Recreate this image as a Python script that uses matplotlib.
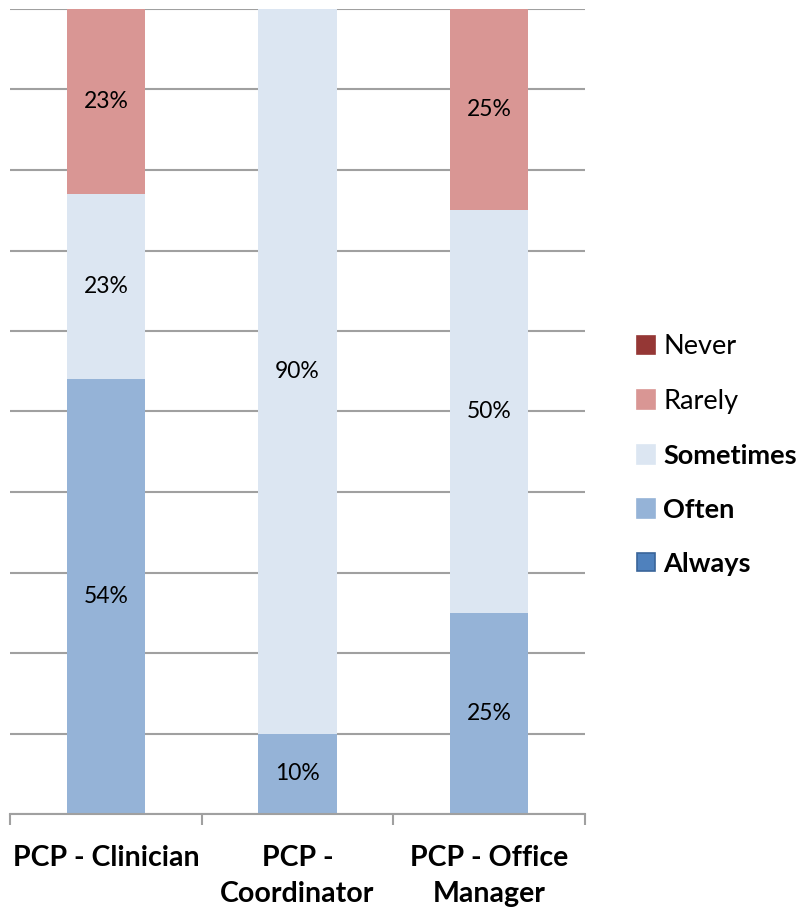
import matplotlib
matplotlib.use("Agg")
import matplotlib.pyplot as plt
from matplotlib.patches import Patch
import numpy as np

categories = ["PCP - Clinician", "PCP -\nCoordinator", "PCP - Office\nManager"]
series_names = ["Always", "Often", "Sometimes", "Rarely", "Never"]
always = [0, 0, 0]
often = [54, 10, 25]
sometimes = [23, 90, 50]
rarely = [23, 0, 25]
never = [0, 0, 0]
colors = {"Always": "#4F81BD", "Often": "#95B3D7", "Sometimes": "#DCE6F2",
          "Rarely": "#D99694", "Never": "#953735"}

plt.rcParams['font.family'] = ['Lato', 'DejaVu Sans']

W, H = 803, 911
fig = plt.figure(figsize=(W / 100, H / 100), dpi=100)
ax = fig.add_axes([10 / W, 1 - 814 / H, (585 - 10) / W, (814 - 9) / H])

x = np.arange(len(categories))
values = {"Always": always, "Often": often, "Sometimes": sometimes,
          "Rarely": rarely, "Never": never}
bottom = np.zeros(len(categories))
for name in series_names:
    v = np.array(values[name], dtype=float)
    bars = ax.bar(x, v, 0.41, bottom=bottom, color=colors[name], zorder=2)
    labels = [f"{int(round(val))}%" if val > 0 else "" for val in v]
    ax.bar_label(bars, labels=labels, label_type='center', fontsize=16.5, color='black')
    bottom += v

ax.set_xlim(-0.5, 2.5)
ax.set_ylim(0, 100)
ax.set_yticks(np.arange(0, 101, 10))
ax.yaxis.grid(True, color='#A0A0A0', linewidth=1.5, zorder=0)
ax.set_axisbelow(True)
ax.tick_params(axis='y', left=False, labelleft=False)
for s in ['left', 'right', 'top']:
    ax.spines[s].set_visible(False)
ax.spines['bottom'].set_color('#A0A0A0')
ax.spines['bottom'].set_linewidth(1.5)

ax.set_xticks([-0.5, 0.5, 1.5, 2.5])
ax.set_xticklabels([])
ax.tick_params(axis='x', length=8, width=1.5, color='#A0A0A0')
ax.set_xticks(x, minor=True)
ax.set_xticklabels(categories, minor=True, fontsize=20.5, fontweight='bold')
ax.tick_params(axis='x', which='minor', length=0, pad=22)
for t in ax.get_xticklabels(minor=True):
    t.set_verticalalignment('top')
    t.set_linespacing(1.5)

handles = []
legend_order = ["Never", "Rarely", "Sometimes", "Often", "Always"]
for name in legend_order:
    ec = '#3A6599' if name == "Always" else colors[name]
    handles.append(Patch(facecolor=colors[name], edgecolor=ec, linewidth=1.2))
leg = fig.legend(handles, legend_order, loc='center left',
                 bbox_to_anchor=(626 / W, 1 - 455 / H), frameon=False,
                 fontsize=19.5, handlelength=0.68, handleheight=0.68,
                 handletextpad=0.3, labelspacing=1.1, borderaxespad=0)
for t in leg.get_texts():
    if t.get_text() in ("Sometimes", "Often", "Always"):
        t.set_fontweight('bold')

fig.savefig("out.png", dpi=100)
